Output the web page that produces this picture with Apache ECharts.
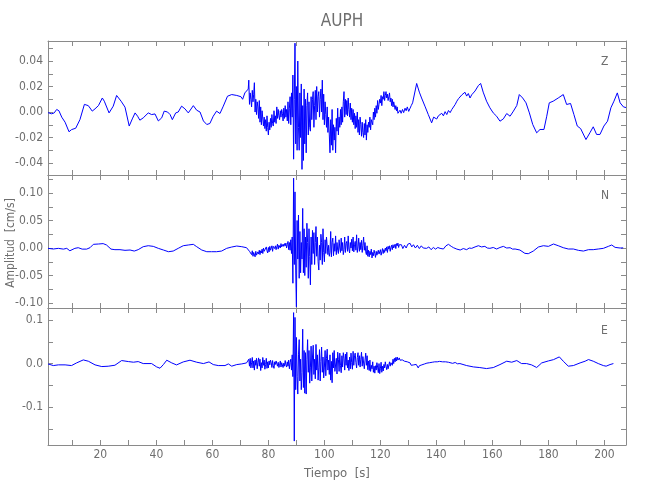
<!DOCTYPE html>
<html>
<head>
<meta charset="utf-8">
<script src="https://cdn.jsdelivr.net/npm/echarts@6/dist/echarts.min.js"></script>
<style>html,body{margin:0;padding:0;background:#fff}#c{width:650px;height:500px}</style>
</head>
<body>
<div id="c"></div>
<script>
// ---- data (time in s, amplitude in cm/s) ----
const stationName = 'AUPH';
const componentNames = ['Z', 'N', 'E'];
const busyStart = 73.0;   // start of the densely sampled part
const busyStep = 0.25;    // sample step of the dense part (s)

const zQuiet1 = [[1.3,-0.0005],[2.6,-0.0014],[3.5,-0.0007],[4.4,0.002],[5.2,0.001],[6.2,-0.004],[7.4,-0.008],[8.8,-0.0155],[9.7,-0.0138],[11.2,-0.0127],[12.7,-0.006],[14.3,0.006],[15.7,0.005],[17.1,0.0007],[18.1,0.0025],[19.3,0.005],[20.7,0.011],[21.4,0.0085],[23.1,-0.0007],[24.6,0.0046],[25.8,0.013],[27.4,0.0085],[28.8,0.0038],[30.3,-0.011],[31.4,-0.0054],[32.4,-0.0007],[33.3,-0.0033],[34.1,-0.0064],[35.3,-0.0046],[37.1,-0.0007],[38.3,-0.002],[39.5,-0.0015],[40.7,-0.007],[41.9,-0.0046],[42.8,0.0007],[44.0,0.0],[44.9,-0.002],[45.7,-0.006],[46.9,-0.0007],[47.8,0.0],[49.0,0.0046],[50.2,0.0025],[51.4,-0.0007],[53.2,0.005],[54.4,0.0014],[55.6,0.0],[56.8,-0.007],[58.0,-0.0098],[59.1,-0.009],[60.3,-0.0033],[61.5,0.0007],[62.7,-0.0012],[63.9,0.0046],[65.4,0.0124],[66.9,0.0137],[68.7,0.013],[70.2,0.012],[70.8,0.010],[71.6,0.015],[72.8,0.018]];
const zBusy = [
 .025,.006,.015,.010, .004,.017,.008,.014, .023,.000,.010,-.002, .008,.004,-.005,.009,
 -.008,.004,-.010,.001, .002,-.011,-.004,-.013, -.006,-.015,-.003,-.012, -.018,-.008,-.014,-.005,
 -.012,-.002,-.009,-.011, .001,-.008,-.003,-.009, .004,-.005,.002,-.003, -.006,.001,-.004,.002,
 -.001,-.007,.003,-.005, .005,-.004,.002,-.007, .008,-.009,.003,.012, -.010,.015,-.004,.029,
 -.037,.010,.054,-.025, .020,-.030,.040,-.012, -.030,.015,-.020,.022, -.045,.005,-.038,.018,
 -.025,.010,-.032,.005, .015,-.018,.008,-.012, -.015,.012,-.006,.010, .016,-.012,.005,.017,
 -.006,.020,.000,.012, .016,-.004,.010,.018, .000,.025,-.006,.014, -.010,.008,-.002,-.012,
 .004,-.016,-.004,-.018, -.032,-.006,-.026,.002, -.030,-.010,-.022,-.012, -.032,-.005,-.015,.003,
 -.018,-.004,-.012,.002, -.010,.004,-.008,.008, .016,-.004,.010,-.002, .009,-.003,.011,.002,
 -.004,.007,-.006,.003, -.008,.002,-.010,-.001, -.013,-.003,-.012,.000, -.016,-.006,-.018,-.004,
 -.010,-.019,-.008,-.016, -.020,-.009,-.018,-.006, -.022,-.010,-.016,-.008, -.012,-.004,-.014,-.006,
 -.005,-.010,.000,-.006, .003,-.004,.005,-.001, .009,.002,.006,.010, .007,.013,.005,.012,
 .010,.016,.009,.013, .016,.011,.014,.009, .012,.015,.008,.011, .005,.010,.004,.008,
 .007,.002,.005,.001, .004,-.001];
const zQuiet2 = [[127.0,0.0014],[127.4,-0.001],[127.9,0.002],[128.3,-0.0005],[128.8,0.003],[129.2,0.001],[129.6,0.004],[130.1,0.0005],[130.6,0.003],[131.0,0.005],[131.5,0.0072],[132.95,0.0224],[133.9,0.0156],[134.7,0.011],[135.9,0.0046],[137.1,-0.002],[138.3,-0.0085],[139.0,-0.004],[139.5,-0.0027],[140.1,-0.0055],[140.7,-0.003],[141.3,-0.0045],[141.9,-0.001],[142.5,-0.003],[143.1,0.0003],[143.7,-0.002],[144.3,0.0012],[144.9,-0.0005],[145.5,0.002],[146.1,0.0035],[146.7,0.0059],[147.3,0.0085],[147.9,0.0105],[148.5,0.009],[149.1,0.0135],[149.6,0.012],[150.2,0.0155],[150.8,0.0125],[151.4,0.0145],[152.0,0.011],[152.6,0.0135],[153.2,0.012],[153.8,0.0165],[155.0,0.0208],[155.8,0.0224],[156.7,0.0156],[157.9,0.0085],[159.1,0.0033],[160.3,-0.0007],[161.5,-0.0033],[162.7,-0.0072],[163.9,-0.0054],[165.1,-0.0012],[166.3,-0.0033],[167.5,0.0007],[168.7,0.0051],[169.6,0.0137],[170.8,0.011],[172.0,0.0072],[173.2,-0.0007],[174.4,-0.0098],[175.8,-0.0163],[177.0,-0.0137],[178.4,-0.0137],[179.4,-0.0033],[180.3,0.0072],[181.7,0.0085],[183.5,0.011],[185.3,0.0137],[186.5,0.0059],[187.9,0.0067],[189.1,-0.002],[190.3,-0.011],[191.5,-0.013],[193.4,-0.0216],[194.8,-0.0163],[196.0,-0.0116],[197.2,-0.0176],[198.4,-0.0176],[199.8,-0.011],[201.1,-0.0072],[202.3,0.0033],[203.4,0.0085],[204.6,0.015],[205.6,0.0072],[206.8,0.004],[207.7,0.0035]];

const nQuiet1 = [[1.3,-0.0006],[3.2,-0.0018],[5.0,-0.0006],[6.8,-0.002],[8.0,-0.0006],[9.1,-0.005],[10.9,-0.0006],[12.1,0.0006],[13.5,-0.002],[15.1,-0.002],[16.3,0.0006],[17.5,0.0067],[19.3,0.0073],[21.0,0.008],[22.2,0.0055],[23.8,-0.002],[25.2,-0.003],[27.0,-0.003],[28.8,-0.0042],[30.6,-0.0036],[32.1,-0.0055],[33.5,-0.003],[35.3,0.0024],[37.1,0.0042],[38.9,0.003],[40.7,-0.0006],[42.5,-0.0036],[44.3,-0.0067],[46.0,-0.0055],[47.8,-0.0006],[49.6,0.0042],[51.4,0.0055],[53.2,0.0067],[54.4,0.0024],[56.2,-0.0036],[58.0,-0.0067],[59.7,-0.0067],[61.5,-0.0067],[63.3,-0.0055],[65.1,-0.0006],[66.9,0.0018],[68.7,0.0036],[70.5,0.0024],[72.2,0.0006],[72.9,-0.0018]];
const nBusy = [
 -.002,-.006,-.004,-.009, -.012,-.005,-.015,-.008, -.010,-.016,-.006,-.013, -.014,-.007,-.011,-.004,
 -.012,-.005,-.009,-.002, -.010,.000,-.006,-.003, -.008,.002,-.005,-.009, .001,-.007,.003,-.004,
 -.002,.004,-.006,.003, .006,-.001,.004,-.003, .002,.007,-.002,.005, .006,.000,.008,.002,
 -.001,.007,.003,.008, .004,.009,.000,.006, .012,-.003,.010,-.004, .015,-.010,.020,-.064,
 .127,-.030,.102,-.040, -.107,.050,-.020,.060, -.055,.030,-.045,.010, -.020,.072,-.045,.035,
 -.050,.020,-.035,.045, .010,-.055,.035,-.015, -.067,.020,-.030,.032, -.010,.028,-.030,.010,
 .039,-.015,.020,-.025, -.040,.005,-.022,.025, .010,-.030,.035,-.008, -.025,.015,-.010,.020,
 .022,-.012,.005,-.015, -.008,.030,-.016,.010, .018,-.014,.008,-.006, .022,-.012,.010,-.004,
 -.010,.015,.000,-.008, .018,-.005,.010,-.012, -.003,.020,-.008,.008, .012,-.006,.022,-.002,
 -.009,.010,.000,.016, -.005,.020,-.007,.006, .012,-.004,.024,-.008, .002,.018,-.006,.010,
 -.003,.014,-.008,.005, .020,-.004,.010,-.007, -.012,.004,-.015,-.004, -.016,-.006,-.012,-.002,
 -.018,-.008,-.014,-.004, -.010,-.017,-.006,-.013, -.014,-.004,-.011,-.008, -.003,-.013,-.007,-.001,
 -.010,-.003,-.008,.000, -.005,.002,-.008,.003, -.002,.004,-.006,.001, .005,-.003,.006,.000,
 .002,.007,-.001,.008, .004,.009,.001,.006];
const nQuiet2 = [[127.0,0.0024],[127.5,0.006],[128.0,-0.001],[128.6,0.005],[129.2,0.000],[129.8,0.007],[130.6,0.0085],[131.2,0.002],[131.8,0.006],[132.5,0.000],[133.2,0.005],[133.9,-0.001],[134.6,0.004],[135.3,0.000],[136.0,0.003],[136.5,-0.0006],[137.3,0.002],[138.1,-0.003],[138.9,0.001],[139.7,-0.002],[140.5,0.001],[141.3,-0.0006],[142.5,-0.0018],[143.4,0.004],[144.3,0.0067],[145.3,0.003],[146.1,0.0006],[147.3,-0.002],[148.5,-0.0036],[149.6,-0.001],[150.8,-0.003],[151.7,0.000],[152.6,-0.0006],[153.8,0.002],[155.0,0.0042],[156.1,0.002],[157.3,0.003],[158.2,0.000],[159.1,-0.0006],[160.3,0.001],[161.5,-0.0018],[162.7,0.001],[163.9,0.003],[165.1,0.000],[166.3,0.0006],[167.2,-0.002],[168.1,-0.0018],[169.8,-0.0036],[171.6,-0.0097],[172.8,-0.0103],[174.6,-0.0055],[176.4,0.0018],[178.2,0.0042],[180.0,0.003],[181.8,0.0073],[183.5,0.0042],[185.3,0.0006],[187.1,-0.0018],[188.9,-0.0018],[190.7,-0.0042],[192.5,-0.0055],[194.3,-0.003],[196.0,-0.003],[197.8,-0.0018],[199.6,-0.0006],[201.4,0.003],[202.6,0.0055],[203.8,0.0012],[205.6,0.0],[206.7,0.0003]];

const eQuiet1 = [[1.3,-0.0008],[3.2,-0.0046],[5.0,-0.003],[7.4,-0.003],[9.7,-0.0046],[11.5,0.0015],[13.9,0.0084],[15.7,0.0054],[18.1,-0.003],[20.5,-0.0069],[22.8,-0.0061],[25.2,-0.0038],[27.6,0.0069],[30.0,0.0046],[31.8,0.0031],[33.5,0.0046],[35.3,0.0],[38.3,0.0],[40.1,-0.0077],[41.3,-0.0107],[42.5,-0.0023],[43.7,0.0077],[45.5,0.0015],[47.2,-0.0031],[49.6,0.0038],[52.0,0.0077],[54.4,0.0031],[56.8,0.0],[58.8,0.0038],[60.3,-0.0023],[62.1,-0.0046],[64.5,-0.0046],[65.7,-0.0008],[66.9,-0.006],[68.7,-0.0023],[70.5,-0.0008],[72.2,0.0015],[72.9,0.0]];
const eBusy = [
 .010,-.006,.012,-.010, .002,.014,-.010,.006, -.015,.008,-.004,.012, -.012,.003,.013,-.006,
 .010,-.016,.002,-.010, .014,-.004,.008,-.013, -.002,.012,-.011,.004, -.010,.006,-.003,.008,
 .002,-.009,.007,-.005, -.011,.004,-.002,.006, .008,-.006,.003,-.009, -.004,.006,-.008,.002,
 .005,-.009,.001,-.006, .007,-.003,-.008,.004, -.006,.008,-.012,.002, .010,-.015,.020,-.030,
 .117,-.178,.106,-.060, .060,-.030,-.070,.020, .055,-.040,.010,-.060, -.020,.079,-.055,.030,
 -.068,.025,-.070,.010, .055,-.020,.030,-.045, -.010,.040,-.040,.015, .042,-.025,.010,-.035,
 .044,-.015,.020,-.038, -.010,.032,-.040,.005, .038,-.020,.015,-.033, -.008,.030,-.028,.012,
 .033,-.015,.008,-.025, .020,-.038,.005,-.044, .025,-.010,.030,-.018, -.020,.012,-.024,.026,
 .010,-.018,.024,-.005, -.021,.018,-.008,.025, .012,-.015,.022,-.004, .026,-.010,.008,-.016,
 .015,-.012,.024,.002, -.013,.028,-.004,.018, .024,.002,-.010,.014, .025,-.004,.018,-.008,
 .010,.026,-.006,.016, .020,-.012,.008,.024, -.004,.018,-.014,.006, -.016,.008,-.018,-.004,
 -.012,.004,-.020,-.006, -.022,-.005,-.015,.002, -.008,-.021,.000,-.023, -.012,.003,-.020,-.006,
 -.017,-.002,-.010,.004, -.006,-.014,-.002,-.012, -.010,.004,-.006,.002, .006,-.004,.010,.000,
 .012,.004,.014,.006, .015,.008,.010,.013];
const eQuiet2 = [[127.0,0.0077],[127.4,0.011],[127.8,0.0085],[128.2,0.012],[128.6,0.0054],[129.0,0.009],[129.6,0.004],[130.2,0.006],[130.6,0.0015],[131.0,-0.004],[131.5,-0.0077],[131.9,-0.003],[132.3,-0.006],[132.8,-0.002],[133.5,-0.010],[133.9,-0.005],[134.3,-0.008],[134.8,-0.003],[135.3,-0.006],[135.7,-0.001],[136.1,-0.004],[136.6,0.001],[137.1,-0.0023],[137.6,0.002],[138.0,-0.001],[138.5,0.003],[138.9,0.0],[139.4,0.004],[139.8,0.001],[140.3,0.004],[140.7,0.0005],[141.1,0.005],[141.5,0.002],[142.2,0.004],[142.9,0.0],[143.3,0.004],[143.7,0.006],[144.3,0.003],[144.9,0.0046],[145.8,0.0005],[146.7,0.0025],[147.5,-0.0005],[148.4,0.0],[150.8,-0.0046],[153.2,-0.0077],[155.5,-0.0092],[157.9,-0.0115],[160.3,-0.0092],[162.7,-0.0023],[165.1,0.0054],[166.9,0.0031],[168.7,0.0069],[170.4,0.0],[172.2,0.0],[174.0,-0.0031],[175.8,-0.009],[177.6,0.0015],[180.0,0.0061],[181.8,0.009],[183.9,0.0153],[185.3,0.0054],[187.1,-0.006],[188.9,-0.0046],[191.3,0.0015],[193.1,0.0054],[194.3,0.0092],[196.0,0.0054],[197.8,0.0],[199.6,-0.0046],[200.6,-0.006],[202.0,-0.0023],[203.2,0.0]];

// axis extents and ticks
const timeMin = 1.3, timeMax = 207.7;
const timeTicks = [10,20,30,40,50,60,70,80,90,100,110,120,130,140,150,160,170,180,190,200];
const timeLabels = [20,40,60,80,100,120,140,160,180,200];
const yMin = [-0.0494, -0.109, -0.187];
const yMax = [0.0557, 0.1327, 0.1276];
const yTicks = [
  [-0.04,-0.03,-0.02,-0.01,0,0.01,0.02,0.03,0.04,0.05],
  [-0.1,-0.075,-0.05,-0.025,0,0.025,0.05,0.075,0.1,0.125],
  [-0.15,-0.1,-0.05,0,0.05,0.1]
];
const yLabels = [
  [-0.04,-0.02,0,0.02,0.04],
  [-0.1,-0.05,0,0.05,0.1],
  [-0.1,0,0.1]
];
const yDecimals = [2, 2, 1];

// ---- chart ----
function build(q1, busy, q2) {
  const out = q1.slice();
  busy.forEach((v, i) => out.push([busyStart + i * busyStep, v]));
  return out.concat(q2);
}
const traces = [build(zQuiet1, zBusy, zQuiet2), build(nQuiet1, nBusy, nQuiet2), build(eQuiet1, eBusy, eQuiet2)];

const FONT = "'DejaVu Sans Condensed', 'Liberation Sans Narrow', sans-serif";
const TXT = '#6e6e6e';
const LINE = '#8a8a8a';
const grids = [
  {left: 48, right: 24, top: 41, height: 134},
  {left: 48, right: 24, top: 175, height: 133},
  {left: 48, right: 24, top: 308, height: 137}
];
const xAxes = [], yAxes = [], series = [];
for (let i = 0; i < 3; i++) {
  const tick = {show: true, inside: true, length: 5, lineStyle: {color: LINE}, customValues: timeTicks};
  xAxes.push({
    type: 'value', gridIndex: i, position: 'bottom', min: timeMin, max: timeMax,
    axisLine: {show: true, onZero: false, lineStyle: {color: LINE}},
    axisTick: tick, splitLine: {show: false},
    axisLabel: {show: i === 2, customValues: timeLabels, color: TXT, fontFamily: FONT, fontSize: 12, margin: 4},
    name: i === 2 ? 'Tiempo  [s]' : '', nameLocation: 'middle', nameGap: 22,
    nameTextStyle: {color: TXT, fontFamily: FONT, fontSize: 13}
  });
  xAxes.push({
    type: 'value', gridIndex: i, position: 'top', min: timeMin, max: timeMax,
    axisLine: {show: true, onZero: false, lineStyle: {color: LINE}},
    axisTick: tick, splitLine: {show: false}, axisLabel: {show: false}
  });
  const ytick = {show: true, inside: true, length: 5, lineStyle: {color: LINE}, customValues: yTicks[i]};
  const dec = yDecimals[i];
  yAxes.push({
    type: 'value', gridIndex: i, position: 'left', min: yMin[i], max: yMax[i],
    axisLine: {show: true, onZero: false, lineStyle: {color: LINE}},
    axisTick: ytick, splitLine: {show: false},
    axisLabel: {customValues: yLabels[i], color: TXT, fontFamily: FONT, fontSize: 12, margin: 5,
      formatter: v => (Math.abs(v) < 1e-9 ? 0 : v).toFixed(dec)}
  });
  yAxes.push({
    type: 'value', gridIndex: i, position: 'right', min: yMin[i], max: yMax[i],
    axisLine: {show: true, onZero: false, lineStyle: {color: LINE}},
    axisTick: ytick, splitLine: {show: false}, axisLabel: {show: false}
  });
  series.push({
    type: 'line', xAxisIndex: 2 * i, yAxisIndex: 2 * i, data: traces[i],
    showSymbol: false, symbol: 'none', sampling: null, silent: true,
    lineStyle: {color: '#0000ff', width: 1}
  });
}

const chart = echarts.init(document.getElementById('c'), null, {renderer: 'canvas'});
chart.setOption({
  animation: false,
  backgroundColor: '#ffffff',
  title: {text: stationName, left: 337, top: 8, textAlign: 'center',
    textStyle: {color: TXT, fontFamily: FONT, fontSize: 17, fontWeight: 'normal'}},
  grid: grids,
  xAxis: xAxes,
  yAxis: yAxes,
  series: series,
  graphic: [
    {type: 'text', left: 601, top: 56, style: {text: componentNames[0], fill: TXT, font: "12px " + FONT}},
    {type: 'text', left: 601, top: 190, style: {text: componentNames[1], fill: TXT, font: "12px " + FONT}},
    {type: 'text', left: 601, top: 325, style: {text: componentNames[2], fill: TXT, font: "12px " + FONT}},
    {type: 'text', x: 11, y: 243, rotation: Math.PI / 2,
      style: {text: 'Amplitud  [cm/s]', fill: TXT, font: "12px " + FONT, align: 'center', verticalAlign: 'middle'}}
  ]
});
</script>
</body>
</html>
